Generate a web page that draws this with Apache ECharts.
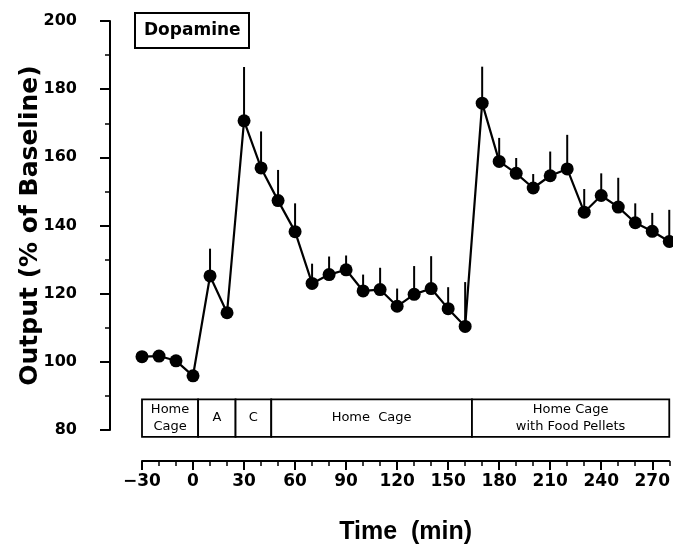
<!DOCTYPE html>
<html>
<head>
<meta charset="utf-8">
<script src="https://cdn.jsdelivr.net/npm/echarts@6/dist/echarts.min.js"></script>
<style>
html,body{margin:0;padding:0;background:#fff;}
#c{width:673px;height:551px;}
</style>
</head>
<body>
<div id="c"></div>
<script>
// ---- data ----
var times = [-30,-20,-10,0,10,20,30,40,50,60,70,80,90,100,110,120,130,140,150,160,170,180,190,200,210,220,230,240,250,260,270,280];
var means = [101.5,101.7,100.3,95.9,125.2,114.4,170.7,156.9,147.3,138.2,123.0,125.6,127.0,120.8,121.2,116.3,119.8,121.5,115.6,110.4,175.9,158.8,155.3,151.0,154.6,156.6,143.9,148.8,145.4,140.8,138.3,135.3];
var errs = [1.5,1.5,1.5,1.5,8.0,1.5,15.8,10.7,9.0,8.3,5.8,5.3,4.2,4.8,6.4,5.2,8.3,9.5,6.3,13.0,10.7,6.9,4.5,4.1,7.1,10.0,6.8,6.5,8.6,5.7,5.4,9.3];
var xTickLabels = [-30,0,30,60,90,120,150,180,210,240,270];
var yTickLabels = [80,100,120,140,160,180,200];
var phaseStarts = [-30,3,25,46,164];
var phaseEnds = [3,25,46,164,280];
var phaseLabels = ['Home\nCage','A','C','Home  Cage','Home Cage\nwith Food Pellets'];

var chart = echarts.init(document.getElementById('c'), null, {renderer:'canvas'});
var lineData = times.map(function(t,i){return [t, means[i]];});
var errData = times.map(function(t,i){return [t, means[i], means[i]+errs[i]];});
var phaseData = phaseStarts.map(function(s,i){return [s, phaseEnds[i]];});
var BOX_TOP = 89, BOX_BOTTOM = 78;

var option = {
  animation:false,
  backgroundColor:'#fff',
  title:{
    text:'Dopamine', left:135, top:13,
    padding:[8,9,7,9], borderWidth:2, borderColor:'#000',
    textStyle:{fontFamily:'DejaVu Sans', fontWeight:'bold', fontSize:17, lineHeight:20, color:'#000'}
  },
  grid:{left:142, right:3, top:21, bottom:121, containLabel:false},
  xAxis:[{
    type:'value', min:-30, max:280, interval:10, position:'bottom', offset:31,
    axisLine:{show:true, onZero:false, lineStyle:{color:'#000', width:2}},
    axisTick:{show:true, length:5, lineStyle:{color:'#000', width:1.5}},
    axisLabel:{show:false}, splitLine:{show:false}
  },{
    type:'value', min:-30, max:280, interval:30, position:'bottom', offset:31,
    axisLine:{show:false, onZero:false},
    axisTick:{show:true, length:9, customValues:xTickLabels, lineStyle:{color:'#000', width:2}},
    axisLabel:{show:true, customValues:xTickLabels, margin:12, color:'#000', fontFamily:'DejaVu Sans', fontWeight:'bold', fontSize:17,
      formatter:function(v){ return (v % 30 === 0 && v <= 270) ? String(v).replace('-', '\u2212') : ''; }},
    splitLine:{show:false},
    name:'Time  (min)', nameLocation:'middle', nameGap:59, nameMoveOverlap:false,
    nameTextStyle:{fontFamily:'Liberation Sans', fontWeight:'bold', fontSize:25, color:'#000'}
  }],
  yAxis:{
    type:'value', min:80, max:200, interval:20, position:'left', offset:32,
    axisLine:{show:true, onZero:false, lineStyle:{color:'#000', width:2}},
    axisTick:{show:true, length:10, lineStyle:{color:'#000', width:2}},
    minorTick:{show:true, splitNumber:2, length:5, lineStyle:{color:'#000', width:1.5}},
    axisLabel:{margin:33, color:'#000', fontFamily:'DejaVu Sans', fontWeight:'bold', fontSize:16},
    splitLine:{show:false},
    name:'Output (% of Baseline)', nameLocation:'middle', nameGap:67, nameMoveOverlap:false,
    nameTextStyle:{fontFamily:'DejaVu Sans', fontWeight:'bold', fontSize:25, color:'#000'}
  },
  series:[{
    type:'custom', name:'err', xAxisIndex:0, data:errData, encode:{x:0, y:[1,2]}, z:2, clip:false,
    renderItem:function(params, api){
      var x = api.value(0);
      var lo = api.coord([x, api.value(1)]);
      var hi = api.coord([x, api.value(2)]);
      return {type:'line', shape:{x1:lo[0], y1:lo[1], x2:hi[0], y2:hi[1]}, style:{stroke:'#000', lineWidth:2}};
    }
  },{
    type:'line', name:'Dopamine', xAxisIndex:0, data:lineData, z:3,
    symbol:'circle', symbolSize:13,
    itemStyle:{color:'#000'}, lineStyle:{color:'#000', width:2.2}
  },{
    type:'custom', name:'phases', xAxisIndex:0, data:phaseData, encode:{x:[0,1]}, z:1, clip:false, silent:true,
    renderItem:function(params, api){
      var p1 = api.coord([api.value(0), BOX_TOP]);
      var p2 = api.coord([api.value(1), BOX_BOTTOM]);
      return {type:'group', children:[
        {type:'rect', shape:{x:p1[0], y:p1[1], width:p2[0]-p1[0], height:p2[1]-p1[1]}, style:{fill:'#fff', stroke:'#000', lineWidth:1.8}},
        {type:'text', style:{text:phaseLabels[params.dataIndex], x:(p1[0]+p2[0])/2, y:(p1[1]+p2[1])/2, align:'center', verticalAlign:'middle', fill:'#000', font:'13px "DejaVu Sans"', lineHeight:17}}
      ]};
    }
  }]
};
chart.setOption(option);
</script>
</body>
</html>
